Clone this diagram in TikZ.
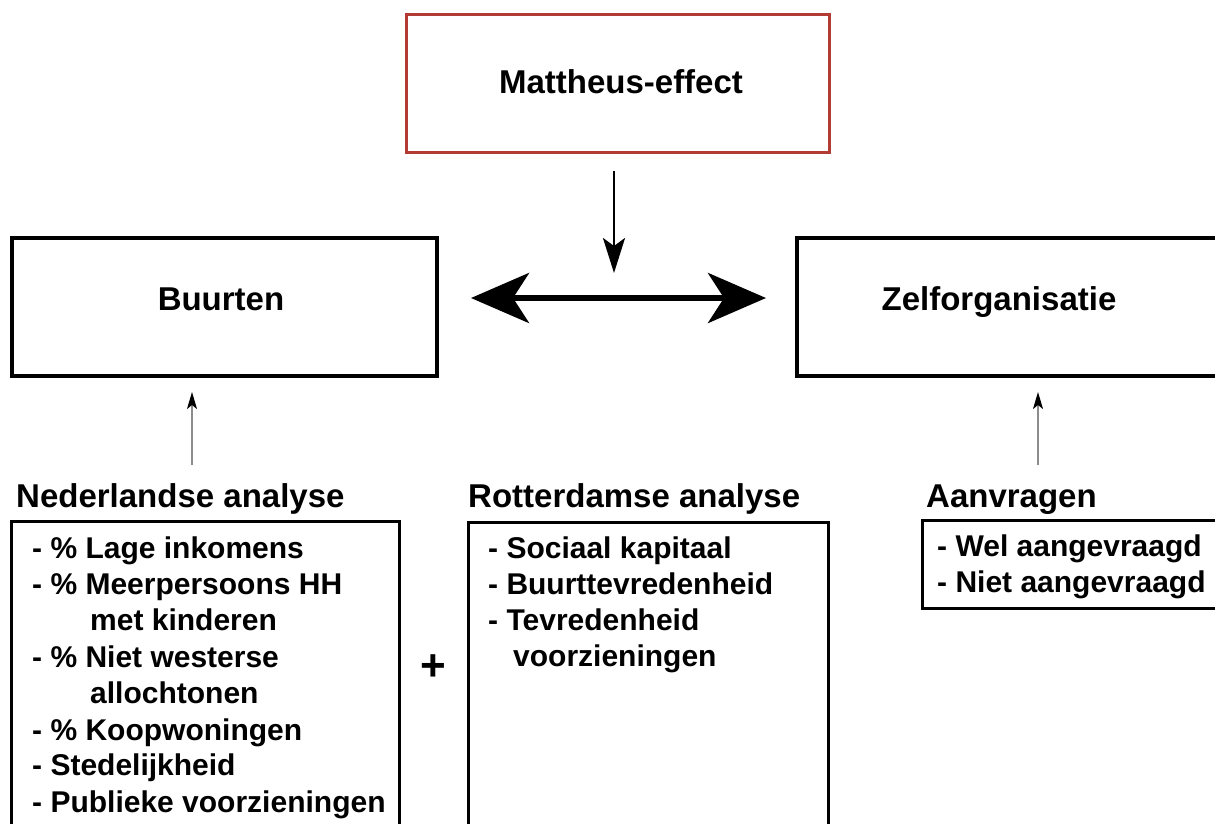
\documentclass[tikz,border=0pt]{standalone}
\usepackage{fontspec}
\setmainfont{Liberation Sans}
\usetikzlibrary{arrows.meta,calc}
\definecolor{mred}{RGB}{178,60,52}
\definecolor{agray}{RGB}{140,140,140}
\begin{document}
\begin{tikzpicture}[x=1pt,y=-1pt,
  bigbox/.style={draw=black,line width=4pt,rectangle,inner sep=0pt,anchor=north west,
    minimum height=138pt},
  boxtext/.style={anchor=base,inner sep=0pt,font=\bfseries\fontsize{33}{36}\selectfont},
  listbox/.style={draw=black,line width=2.5pt,rectangle,inner sep=0pt,anchor=north west},
  heading/.style={anchor=base west,inner sep=0pt,font=\bfseries\fontsize{33}{36}\selectfont},
  item/.style={anchor=base west,inner sep=0pt,font=\bfseries\fontsize{30}{36}\selectfont},
  thinarrow/.style={draw=agray,line width=1.6pt,-{Stealth[length=17pt,width=10pt,inset=4pt,black]}},
]
\clip (0,0) rectangle (1215,823);
\fill[white] (0,0) rectangle (1215,823);

% top box
\node[draw=mred,line width=3pt,rectangle,inner sep=0pt,anchor=north west,
  minimum width=423pt,minimum height=138pt] (matt) at (405,13) {};
\node[boxtext] (mattt) at (621,93) {Mattheus-effect};

% main boxes
\node[bigbox,minimum width=425pt] (buurt) at (10,236) {};
\node[boxtext] (buurtt) at (221,310) {Buurten};
\node[bigbox,minimum width=440pt] (zelf) at (795,236) {};
\node[boxtext] (zelft) at (999,310) {Zelforganisatie};

% arrows at the top
\coordinate (mid) at (614,273);
\draw[line width=2.7pt,-{Stealth[length=35pt,width=22pt,inset=8pt]}]
  (mid |- matt.south) ++(0,17) -- (mid);
\draw[line width=6pt,{Stealth[length=58pt,width=50pt,inset=16pt]}-{Stealth[length=58pt,width=50pt,inset=16pt]}]
  ($(buurt.east)+(32,-9)$) -- ($(zelf.west)+(-29,-9)$);

% headings
\node[heading] (nlh) at (16,507) {Nederlandse analyse};
\node[heading] (rth) at (468,507) {Rotterdamse analyse};
\node[heading] (avh) at (926,507) {Aanvragen};

% list boxes
\node[listbox,minimum width=388pt,minimum height=340pt] (nlbox) at (10,520) {};
\node[listbox,minimum width=360pt,minimum height=340pt] (rtbox) at (467,521) {};
\node[listbox,minimum width=310pt,minimum height=88pt] (avbox) at (921,519) {};

% gray arrows
\coordinate (nla) at (192,465);
\coordinate (ava) at (1038,465);
\draw[thinarrow,shorten >=14pt] (nla) -- (nla |- buurt.south);
\draw[thinarrow,shorten >=14pt] (ava) -- (ava |- zelf.south);

% list items
\node[item] (nl1) at (32,558) {- \% Lage inkomens};
\node[item] (nl2) at (32,594) {- \% Meerpersoons HH};
\node[item] (nl3) at (90,630) {met kinderen};
\node[item] (nl4) at (32,667) {- \% Niet westerse};
\node[item] (nl5) at (90,703) {allochtonen};
\node[item] (nl6) at (32,740) {- \% Koopwoningen};
\node[item] (nl7) at (32,775) {- Stedelijkheid};
\node[item] (nl8) at (32,812) {- Publieke voorzieningen};

\node[item] (rt1) at (488,558) {- Sociaal kapitaal};
\node[item] (rt2) at (488,594) {- Buurttevredenheid};
\node[item] (rt3) at (488,630) {- Tevredenheid};
\node[item] (rt4) at (513,666) {voorzieningen};

\node[item] (av1) at (937,556) {- Wel aangevraagd};
\node[item] (av2) at (937,592) {- Niet aangevraagd};

\node[inner sep=0pt,font=\bfseries\fontsize{44}{48}\selectfont] (plus) at (433,668) {+};
\end{tikzpicture}
\end{document}
